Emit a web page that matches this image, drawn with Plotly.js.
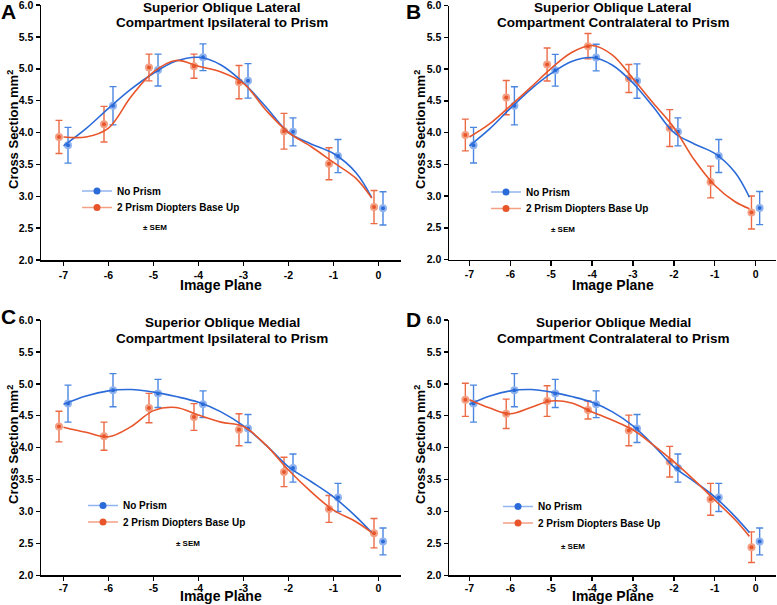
<!DOCTYPE html>
<html>
<head>
<meta charset="utf-8">
<script src="https://cdn.plot.ly/plotly-3.0.1.min.js"></script>
<style>html,body{margin:0;padding:0;background:#fff;}#chart{width:777px;height:605px;}</style>
</head>
<body>
<div id="chart"></div>
<script>
// ---- data ----
const planes = [-7, -6, -5, -4, -3, -2, -1, 0];
const planeLabels = ['-7', '-6', '-5', '-4', '-3', '-2', '-1', '0'];

// Lateral compartment
const latNoPrism        = [3.80, 4.42, 4.98, 5.18, 4.81, 4.01, 3.63, 2.81];
const latNoPrismSEM     = [0.28, 0.30, 0.25, 0.21, 0.27, 0.22, 0.26, 0.26];
const latIpsiPrism      = [3.93, 4.13, 5.02, 5.04, 4.79, 4.02, 3.51, 2.83];
const latIpsiPrismSEM   = [0.26, 0.28, 0.21, 0.19, 0.26, 0.28, 0.25, 0.26];
const latContraPrism    = [3.96, 4.55, 5.07, 5.36, 4.85, 4.07, 3.22, 2.74];
const latContraPrismSEM = [0.25, 0.27, 0.26, 0.20, 0.22, 0.29, 0.25, 0.26];

// Medial compartment
const medNoPrism        = [4.69, 4.90, 4.85, 4.68, 4.30, 3.68, 3.22, 2.53];
const medNoPrismSEM     = [0.29, 0.26, 0.22, 0.21, 0.22, 0.22, 0.22, 0.21];
const medIpsiPrism      = [4.33, 4.18, 4.62, 4.48, 4.28, 3.62, 3.04, 2.66];
const medIpsiPrismSEM   = [0.24, 0.22, 0.23, 0.21, 0.25, 0.23, 0.21, 0.23];
const medContraPrism    = [4.75, 4.53, 4.73, 4.59, 4.27, 3.78, 3.19, 2.44];
const medContraPrismSEM = [0.26, 0.23, 0.24, 0.14, 0.24, 0.24, 0.25, 0.24];

// Fitted curves
const fitX              = [-7, -6.5, -6, -5.5, -5, -4.5, -4, -3.5, -3, -2.5, -2, -1.5, -1, -0.5, -0.15];
const fitLatNoPrism     = [3.79, 4.06, 4.38, 4.68, 4.93, 5.12, 5.18, 5.06, 4.78, 4.40, 4.00, 3.82, 3.67, 3.37, 2.98];
const fitLatIpsiPrism   = [3.93, 3.93, 4.07, 4.56, 4.95, 5.13, 5.04, 4.95, 4.77, 4.35, 4.00, 3.78, 3.53, 3.28, 2.97];
const fitLatContraPrism = [3.93, 4.14, 4.42, 4.71, 5.01, 5.26, 5.37, 5.22, 4.85, 4.46, 4.08, 3.57, 3.17, 2.91, 2.80];
const fitMedNoPrism     = [4.68, 4.81, 4.89, 4.91, 4.87, 4.80, 4.71, 4.56, 4.34, 4.04, 3.70, 3.47, 3.23, 2.92, 2.67];
const fitMedIpsiPrism   = [4.32, 4.24, 4.17, 4.33, 4.58, 4.63, 4.51, 4.40, 4.33, 4.04, 3.65, 3.31, 3.02, 2.84, 2.67];
const fitMedContraPrism = [4.75, 4.62, 4.53, 4.63, 4.73, 4.70, 4.56, 4.43, 4.28, 4.04, 3.78, 3.49, 3.18, 2.87, 2.61];

const seriesNames = ['No Prism', '2 Prism Diopters Base Up'];
const panelLetters = ['A', 'B', 'C', 'D'];
const titleLine1 = ['Superior Oblique Lateral', 'Superior Oblique Lateral', 'Superior Oblique Medial', 'Superior Oblique Medial'];
const titleLine2 = ['Compartment Ipsilateral to Prism', 'Compartment Contralateral to Prism',
                    'Compartment Ipsilateral to Prism', 'Compartment Contralateral to Prism'];
const xTitle = 'Image Plane';
const yTitle = 'Cross Section mm<sup>2</sup>';
const semNote = '± SEM';

// ---- styling / layout ----
const W = 777, H = 605;
const FONT = 'Liberation Sans, Arial, sans-serif';
const BLUE = '#2b6bd9', BLUE_ERR = '#4a86e0', BLUE_MK = '#92b4ee';
const ORANGE = '#e8552b', ORANGE_ERR = '#ec6b45', ORANGE_MK = '#f3a085';

const panels = [
  {no: latNoPrism, noSem: latNoPrismSEM, pr: latIpsiPrism, prSem: latIpsiPrismSEM, noFit: fitLatNoPrism, prFit: fitLatIpsiPrism,
   px: [41, 401], py: [5, 260], labelShift: 0},
  {no: latNoPrism, noSem: latNoPrismSEM, pr: latContraPrism, prSem: latContraPrismSEM, noFit: fitLatNoPrism, prFit: fitLatContraPrism,
   px: [449, 776], py: [5.5, 259.5], labelShift: 0},
  {no: medNoPrism, noSem: medNoPrismSEM, pr: medIpsiPrism, prSem: medIpsiPrismSEM, noFit: fitMedNoPrism, prFit: fitMedIpsiPrism,
   px: [41, 401], py: [320, 575.3], labelShift: -2},
  {no: medNoPrism, noSem: medNoPrismSEM, pr: medContraPrism, prSem: medContraPrismSEM, noFit: fitMedNoPrism, prFit: fitMedContraPrism,
   px: [449, 776], py: [320, 575.3], labelShift: -2}
];
// label positions (pixels)
const letterPos = [[8, 11], [413, 11], [8, 316], [413, 319]];
const title1Pos = [[222, 7.5], [613, 7.5], [222, 322], [613, 322]];
const title2Pos = [[222, 23], [613, 23], [222, 338], [613, 338]];
const xTitlePos = [[221, 294], [613, 294], [221, 605], [613, 605]]; // bottom edge of the text box
const yTitlePos = [[13, 130], [420, 130], [13, 445], [420, 445]];
const legendX = [77, 486, 83, 498];
const legendY = [[191, 207.5], [192, 208.5], [505.5, 522], [506.5, 523]];
const semPos = [[155, 228], [563, 229], [188, 543], [573, 546]];

const fx = p => p / W;
const fy = p => 1 - p / H;

const data = [];
const layout = {
  width: W, height: H,
  margin: {l: 0, r: 0, t: 0, b: 0},
  paper_bgcolor: '#fff', plot_bgcolor: '#fff',
  font: {family: FONT, color: '#000'},
  showlegend: true,
  annotations: []
};

let legendCount = 0;
panels.forEach((p, i) => {
  const n = i === 0 ? '' : String(i + 1);
  const xa = 'x' + n, ya = 'y' + n;
  const tf = {family: FONT, size: 10.5, color: '#000', weight: 'bold'};
  layout['xaxis' + n] = {
    domain: [fx(p.px[0]), fx(p.px[1])], anchor: ya, range: [-7.5, 0.5],
    showline: true, linecolor: '#000', linewidth: 1.5, mirror: false,
    ticks: 'outside', ticklen: 4.5, tickwidth: 1.5, tickcolor: '#000',
    tickmode: 'array', tickvals: planes, ticktext: planeLabels,
    showgrid: false, zeroline: false, tickfont: tf, fixedrange: true,
    ticklabeloverflow: 'allow', ticklabelstandoff: p.labelShift
  };
  layout['yaxis' + n] = {
    domain: [fy(p.py[1]), fy(p.py[0])], anchor: xa, range: [2, 6],
    showline: true, linecolor: '#000', linewidth: 1.5,
    ticks: 'outside', ticklen: 4, tickwidth: 1.5, tickcolor: '#000',
    tick0: 2, dtick: 0.5, tickformat: '.1f',
    showgrid: false, zeroline: false, tickfont: tf, fixedrange: true,
    ticklabeloverflow: 'allow'
  };

  const groups = [
    {mean: p.no, sem: p.noSem, fit: p.noFit, off: 0.1, c: BLUE, ce: BLUE_ERR, cm: BLUE_MK, name: seriesNames[0]},
    {mean: p.pr, sem: p.prSem, fit: p.prFit, off: -0.1, c: ORANGE, ce: ORANGE_ERR, cm: ORANGE_MK, name: seriesNames[1]}
  ];
  // error bars + points
  groups.forEach(g => {
    data.push({
      type: 'scatter', mode: 'markers', xaxis: xa, yaxis: ya, showlegend: false, hoverinfo: 'skip',
      x: planes.map(v => v + g.off), y: g.mean,
      error_y: {type: 'data', array: g.sem, visible: true, color: g.ce, thickness: 1.4, width: 3.5},
      marker: {symbol: 'circle', size: 8, color: g.cm, line: {width: 0}}
    });
    data.push({
      type: 'scatter', mode: 'markers', xaxis: xa, yaxis: ya, showlegend: false, hoverinfo: 'skip',
      x: planes.map(v => v + g.off), y: g.mean,
      marker: {symbol: 'circle', size: 4, color: g.c, line: {width: 0}}
    });
  });
  // fitted curves
  groups.forEach(g => {
    data.push({
      type: 'scatter', mode: 'lines', xaxis: xa, yaxis: ya, showlegend: false, hoverinfo: 'skip',
      x: fitX, y: g.fit, line: {color: g.c, width: 1.6, shape: 'spline', smoothing: 1}
    });
  });
  // legend entries: one small legend per entry so each can be placed
  groups.forEach((g, k) => {
    legendCount += 1;
    const lg = legendCount === 1 ? 'legend' : 'legend' + legendCount;
    layout[lg] = {
      x: fx(legendX[i]), y: fy(legendY[i][k]), xanchor: 'left', yanchor: 'middle',
      bgcolor: 'rgba(0,0,0,0)', borderwidth: 0,
      font: {family: FONT, size: 10, color: '#000', weight: 'bold'},
      itemwidth: 30
    };
    data.push({
      type: 'scatter', mode: 'lines+markers', xaxis: xa, yaxis: ya, legend: lg,
      name: g.name, x: [null], y: [null], hoverinfo: 'skip',
      line: {color: g.cm, width: 1.5},
      marker: {symbol: 'circle', size: 7, color: g.c}
    });
  });

  // text annotations
  const A = layout.annotations;
  const ann = (pos, text, size, extra) => Object.assign({
    xref: 'paper', yref: 'paper', x: fx(pos[0]), y: fy(pos[1]), xanchor: 'center', yanchor: 'middle',
    text: text, showarrow: false, font: {family: FONT, size: size, color: '#000', weight: 'bold'}
  }, extra || {});
  A.push(ann(letterPos[i], panelLetters[i], 21));
  A.push(ann(title1Pos[i], titleLine1[i], 13.5));
  A.push(ann(title2Pos[i], titleLine2[i], 13.5));
  A.push(ann(xTitlePos[i], xTitle, 14, {yanchor: 'bottom', borderpad: 0}));
  A.push(ann(yTitlePos[i], yTitle, 13, {textangle: -90}));
  A.push(ann(semPos[i], semNote, 8));
});

Plotly.newPlot('chart', data, layout, {displayModeBar: false, staticPlot: true});
</script>
</body>
</html>
